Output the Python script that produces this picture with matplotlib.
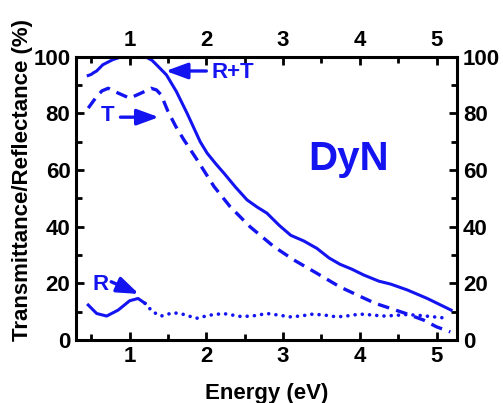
import matplotlib.pyplot as plt
from matplotlib.ticker import MultipleLocator

plt.rcParams['font.family'] = ['Liberation Sans', 'DejaVu Sans']
plt.rcParams['font.weight'] = 'bold'

blue = '#1414f0'

# R+T (solid)
e_rt = [0.46, 0.5, 0.53, 0.57, 0.65, 0.78, 0.87, 1.0, 1.22, 1.29, 1.35, 1.48, 1.61,
        1.75, 1.92, 2.01, 2.13, 2.23, 2.38, 2.53, 2.66, 2.79, 2.95, 3.1, 3.27, 3.44,
        3.6, 3.74, 3.9, 4.05, 4.25, 4.4, 4.62, 4.88, 5.19]
rt = [93.4, 93.8, 94.4, 95, 97.2, 99, 99.8, 100, 99.8, 98.8, 97.2, 93.6, 87.7,
      80, 70, 66, 62, 58.9, 54, 49.5, 47, 44.8, 40.5, 37, 35, 32.4,
      29, 26.8, 25, 23, 20.8, 19.8, 17.7, 14.7, 10.6]

# T (dashed)
e_t = [0.46, 0.57, 0.64, 0.72, 0.85, 1.0, 1.15, 1.28, 1.35, 1.41, 1.5, 1.6, 1.7,
       1.88, 2.1, 2.31, 2.57, 2.88, 3.14, 3.44, 3.74, 4.0, 4.2, 4.4, 4.6, 4.83,
       5.0, 5.18]
t = [81.9, 86, 88, 88.9, 87.2, 85.4, 87.2, 88.9, 88.3, 86.6, 80.7, 75.5, 71,
     63.6, 54.2, 47.1, 40, 33, 28.3, 23.6, 18.8, 15.5, 13, 11.2, 9.4, 7.1,
     4.7, 2.9]

# R (solid part, then dotted)
e_r = [0.46, 0.57, 0.7, 0.85, 1.0, 1.11, 1.2, 1.3, 1.41, 1.57, 1.7, 1.87, 2.04,
       2.22, 2.46, 2.62, 2.79, 2.95, 3.1, 3.25, 3.39, 3.55, 3.7, 3.85, 4.0,
       4.15, 4.3, 4.45, 4.6, 4.75, 4.9, 5.15]
r = [12.4, 9.4, 8.5, 10.6, 13.9, 14.7, 13, 10, 8.5, 9.7, 9.1, 7.7, 8.8,
     9.4, 8.3, 8.6, 9.4, 8.8, 8.2, 8.6, 9.2, 8.8, 8.2, 8.6, 9.2,
     8.9, 8.5, 8.7, 9, 8.8, 8.4, 7.7]
n_solid = 7

fig = plt.figure(figsize=(5.03, 4.03), dpi=100)
ax = fig.add_axes([0.151, 0.156, 0.758, 0.703])

ax.plot(e_rt, rt, color=blue, lw=2.2)
ax.plot(e_t, t, color=blue, lw=2.4, dashes=(3.5, 2.2))
ax.plot(e_r[:n_solid], r[:n_solid], color=blue, lw=2.2)
ax.plot(e_r[n_solid - 1:], r[n_solid - 1:], color=blue, lw=2.6, dashes=(0.01, 2.0),
        dash_capstyle='round')

arrow = dict(arrowstyle='-|>,head_length=0.6,head_width=0.22', lw=2.4, color=blue,
             mutation_scale=22, shrinkA=0, shrinkB=0)
ax.annotate('', xy=(1.47, 95), xytext=(2.0, 95), arrowprops=arrow)
ax.text(2.07, 94.3, 'R+T', color=blue, fontsize=16, fontweight='bold', va='center')
ax.annotate('', xy=(1.38, 78.7), xytext=(0.88, 78.7), arrowprops=arrow)
ax.text(0.71, 79.3, 'T', color=blue, fontsize=16, fontweight='bold', va='center', ha='center')
ax.annotate('', xy=(1.12, 16.3), xytext=(0.76, 20.6), arrowprops=arrow)
ax.text(0.62, 19.6, 'R', color=blue, fontsize=16, fontweight='bold', va='center', ha='center')
ax.text(3.85, 64, 'DyN', color=blue, fontsize=29, fontweight='bold', va='center', ha='center')

ax.set_xlim(0.3, 5.27)
ax.set_ylim(0, 100)
ax.xaxis.set_major_locator(MultipleLocator(1))
ax.xaxis.set_minor_locator(MultipleLocator(0.5))
ax.yaxis.set_major_locator(MultipleLocator(20))
ax.yaxis.set_minor_locator(MultipleLocator(10))
ax.tick_params(which='both', direction='in', top=True, right=True,
               labeltop=True, labelright=True, width=2, labelsize=16, pad=4)
ax.tick_params(which='major', length=6)
ax.tick_params(which='minor', length=4)
for s in ax.spines.values():
    s.set_linewidth(2.2)

ax.set_xlabel('Energy (eV)', fontsize=16, fontweight='bold', labelpad=12)
ax.set_ylabel('Transmittance/Reflectance (%)', fontsize=16, fontweight='bold')
ax.yaxis.set_label_coords(-0.112, 0.565)

fig.savefig('out.png', dpi=100)
